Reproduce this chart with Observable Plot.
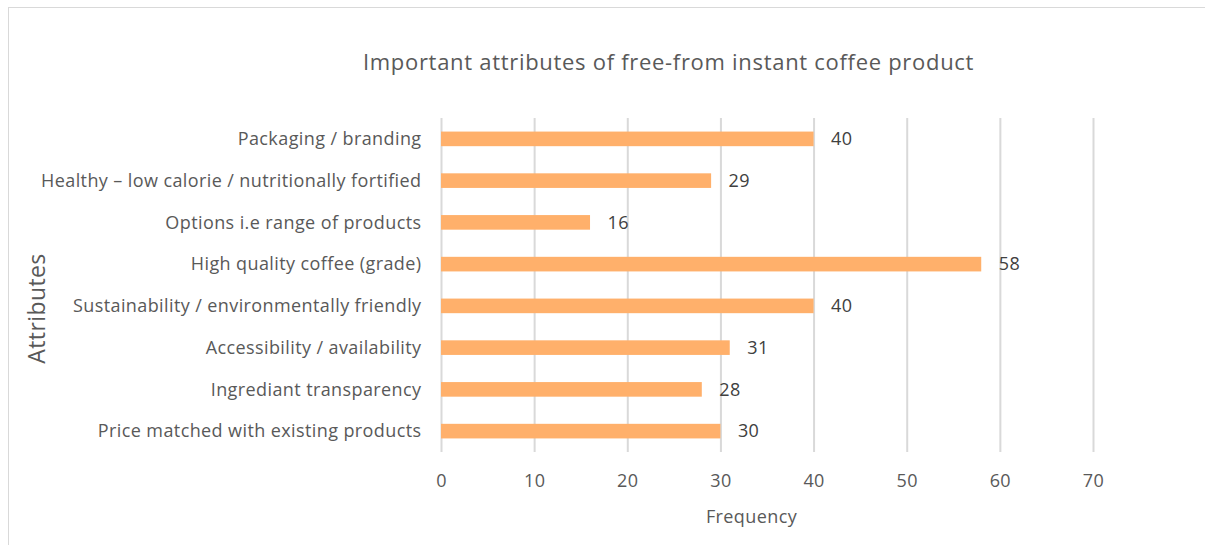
<!DOCTYPE html>
<html>
<head>
<meta charset="utf-8">
<script src="https://cdn.jsdelivr.net/npm/d3@7"></script>
<script src="https://cdn.jsdelivr.net/npm/@observablehq/plot@0.6"></script>
<style>
  html, body { margin: 0; padding: 0; background: #fff; }
  #wrap { position: relative; width: 1205px; height: 545px; overflow: hidden; }
  #border { position: absolute; left: 8px; top: 7px; width: 1300px; height: 700px; border: 1px solid #d9d9d9; box-sizing: border-box; }
  #chart { position: absolute; left: 0; top: 0; }
  #chart svg text { letter-spacing: 0.4px; }
  #chart svg g.title text { letter-spacing: 0.7px; }
</style>
</head>
<body>
<div id="wrap"><div id="border"></div><div id="chart"></div></div>
<script>
const categories = [
  "Packaging / branding",
  "Healthy \u2013 low calorie / nutritionally fortified",
  "Options i.e range of products",
  "High quality coffee (grade)",
  "Sustainability / environmentally friendly",
  "Accessibility / availability",
  "Ingrediant transparency",
  "Price matched with existing products"
];
const frequencies = [40, 29, 16, 58, 40, 31, 28, 30];
const xTicks = [0, 10, 20, 30, 40, 50, 60, 70];
const titleText = "Important attributes of free-from instant coffee product";
const xLabel = "Frequency";
const yLabel = "Attributes";

const data = categories.map((c, i) => ({attribute: c, frequency: frequencies[i]}));
const font = "'Open Sans', sans-serif";

const chart = Plot.plot({
  width: 1205,
  height: 545,
  marginLeft: 441,
  marginRight: 112,
  marginTop: 118,
  marginBottom: 93,
  style: {fontFamily: font, fontSize: "18px", color: "#595959", background: "transparent"},
  x: {domain: [0, 70], ticks: xTicks, label: null},
  y: {domain: categories, paddingInner: 0.65, paddingOuter: 0.325, round: false, label: null},
  marks: [
    Plot.gridX(xTicks, {stroke: "#d9d9d9", strokeWidth: 2, strokeOpacity: 1}),
    Plot.axisX(xTicks, {tickSize: 0, tickPadding: 22, fontSize: 18, fill: "#595959", label: null}),
    Plot.axisY({tickSize: 0, tickPadding: 20, fontSize: 18, fill: "#595959", label: null}),
    Plot.barX(data, {x: "frequency", y: "attribute", fill: "#FFB06B"}),
    Plot.text(data, {x: "frequency", y: "attribute", text: d => String(d.frequency), textAnchor: "start", dx: 17, fontSize: 18, fill: "#404040"}),
    Plot.text([titleText], {frameAnchor: "top", dx: -99, dy: -64, fontSize: 22, fill: "#595959", className: "title"}),
    Plot.text([xLabel], {frameAnchor: "bottom", dx: -16, dy: 70, fontSize: 18, fill: "#595959"}),
    Plot.text([yLabel], {frameAnchor: "left", textAnchor: "middle", dx: -404, dy: 23, rotate: -90, fontSize: 23, fill: "#595959"})
  ]
});
document.getElementById("chart").appendChild(chart);
</script>
</body>
</html>
